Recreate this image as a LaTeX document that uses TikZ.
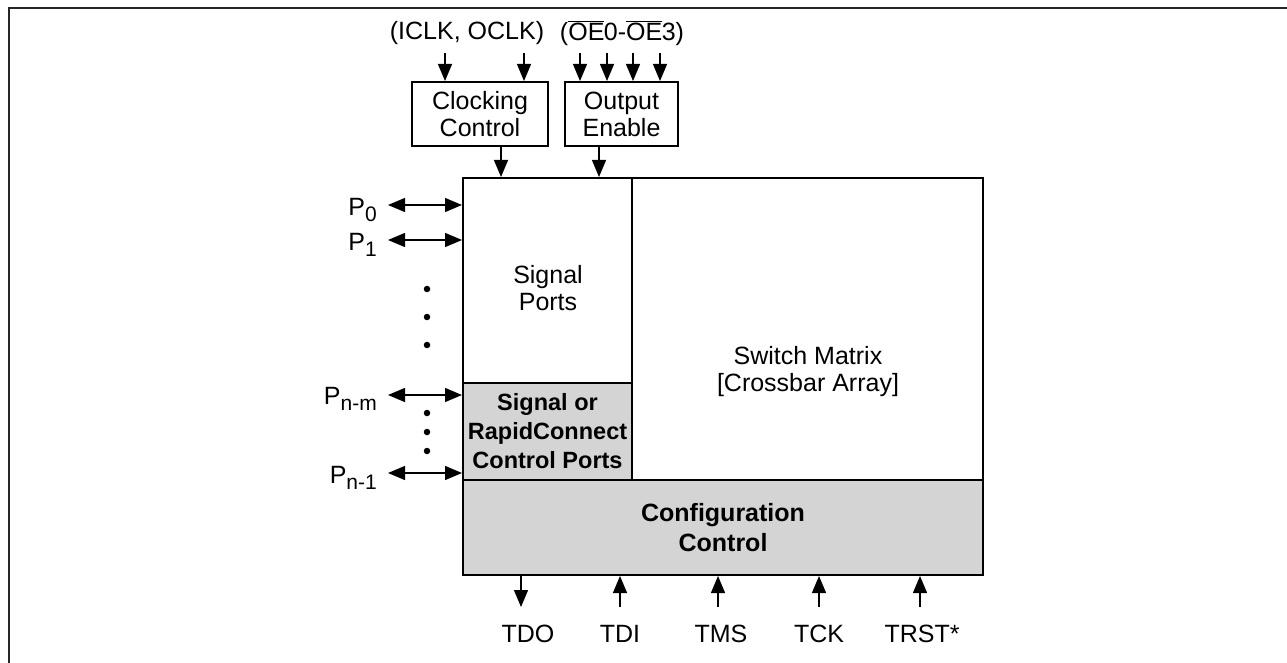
\documentclass[tikz,border=0pt]{standalone}
\usepackage{fontspec}
\setmainfont{Liberation Sans}
\usetikzlibrary{arrows.meta}
\begin{document}
\begin{tikzpicture}[x=1pt,y=-1pt,
  every node/.style={font=\fontsize{25}{27}\selectfont, align=center, inner sep=0pt},
  blk/.style={draw, line width=2pt, minimum width=#1},
  shade/.style={fill=black!17},
  arr/.style={line width=1.3pt, -{Triangle[length=17pt,width=14pt]}},
  darr/.style={line width=1.3pt, {Triangle[length=17pt,width=14pt]}-{Triangle[length=17pt,width=14pt]}},
  dot/.style={circle, fill, minimum size=6.5pt, inner sep=0pt}]
\useasboundingbox (0,0) rectangle (1287,663);
% outer frame (open at right and bottom)
\draw[line width=2pt, black!85] (9,663) -- (9,8) -- (1287,8);

% main blocks
\node[blk=169pt, minimum height=205pt] (sp) at (547.5,280.5) {};
\node (spt) at (548,288) {Signal\\Ports};
\node[blk=351pt, minimum height=302pt] (sw) at (807.5,329) {};
\node (swt) at (808,372) {Switch Matrix\\{[}Crossbar Array{]}};
\node[blk=169pt, minimum height=97pt, shade, font=\fontsize{23.5}{29}\selectfont\bfseries] (rc) at (547.5,431.5) {Signal or\\RapidConnect\\Control Ports};
\node[blk=520pt, minimum height=95pt, shade, font=\fontsize{25}{30}\selectfont\bfseries] (cc) at (723,527.5) {Configuration\\Control};

% top control boxes
\node[blk=136pt, minimum height=64pt] (clk) at (480,114) {Clocking\\Control};
\node[blk=113pt, minimum height=64pt] (oe) at (621.5,114) {Output\\Enable};

% top labels
\node (clkin) at (467,33) {(ICLK, OCLK)};
\node (oein) at (622,33) {($\overline{\hbox{OE}}$\kern-0.5pt0-$\overline{\hbox{OE}}$\kern-0.5pt3)};

% top input arrows
\foreach \n/\x in {c1/445,c2/524} {
  \coordinate (\n) at (\x,53);
  \draw[arr] (\n) -- (\n |- clk.north);
}
\foreach \n/\x in {o1/580,o2/607,o3/633,o4/660} {
  \coordinate (\n) at (\x,53);
  \draw[arr] (\n) -- (\n |- oe.north);
}
% control to main
\coordinate (xa) at (501,0);
\coordinate (xb) at (599,0);
\draw[arr] (clk.south -| xa) -- (sp.north -| xa);
\draw[arr] (oe.south -| xb) -- (sp.north -| xb);

% left ports
\foreach \n/\y in {p0/205,p1/240,pnm/395,pn1/473} {
  \coordinate (\n) at (388,\y);
  \draw[darr] (\n) -- (\n -| sp.west);
}
\node[anchor=east] (l0) at (377,210) {P\raisebox{-0.4ex}{\fontsize{21}{21}\selectfont 0}};
\node[anchor=east] (l1) at (377,245) {P\raisebox{-0.4ex}{\fontsize{21}{21}\selectfont 1}};
\node[anchor=east] (lnm) at (377,399) {P\raisebox{-0.4ex}{\fontsize{21}{21}\selectfont n-m}};
\node[anchor=east] (ln1) at (377,478) {P\raisebox{-0.4ex}{\fontsize{21}{21}\selectfont n-1}};
\foreach \n/\y in {d1/289,d2/317,d3/345,d4/413,d5/432,d6/451}
  \node[dot] (\n) at (427,\y) {};

% bottom JTAG
\coordinate (tdo) at (521,607);
\draw[arr] (cc.south -| tdo) -- (tdo);
\node (ltdo) at (528,634) {TDO};
\foreach \n/\x/\lx/\t in {tdi/620/620/TDI,tms/718/721/TMS,tck/819/819/TCK,trst/920/922/TRST*} {
  \coordinate (\n) at (\x,607);
  \draw[arr] (\n) -- (\n |- cc.south);
  \node (l\n) at (\lx,634) {\t};
}
\end{tikzpicture}
\end{document}
